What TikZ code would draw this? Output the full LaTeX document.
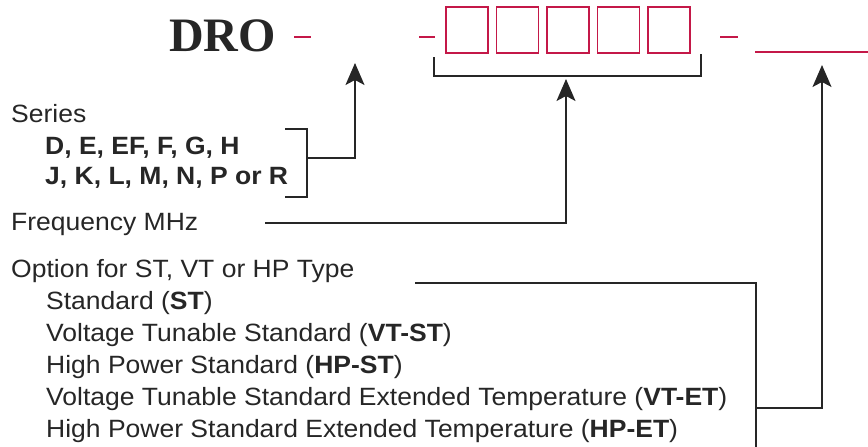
\documentclass[tikz,border=0pt]{standalone}
\usepackage{fontspec}
\usepackage{xcolor}
\usepackage{tikz}
\usetikzlibrary{arrows.meta, positioning, calc}
\newfontfamily\labelfont[FakeStretch=1.06]{Liberation Sans}
\newfontfamily\drofont{Liberation Serif}
\definecolor{codered}{RGB}{196,24,72}
\definecolor{inkgray}{RGB}{38,38,38}

\begin{document}
\begin{tikzpicture}[x=1pt,y=-1pt,
                    label text/.style={anchor=base west,inner sep=0pt,text=inkgray,font=\labelfont\fontsize{25}{30}\selectfont},
                    code box/.style={draw=codered,line width=1.8pt,minimum width=42pt,minimum height=46pt,inner sep=0pt},
                    red dash/.style={draw=codered,line width=1.8pt},
                    lead/.style={draw=inkgray,line width=1.3pt},
                    pointer/.style={lead,-{Stealth[length=22pt,width=19pt,inset=5pt]}}]

  \useasboundingbox (0,0) rectangle (868,447);

  % part number
  \node[anchor=base west,inner sep=0pt,text=inkgray,font=\drofont\bfseries\fontsize{48}{52}\selectfont] (dro) at (169,51) {DRO};
  \foreach \i in {1,...,5}
    \node[code box] (box\i) at ({416.5+50.5*\i},30) {};

  \draw[red dash] (294,37) -- (311,37);
  \draw[red dash] (419,37) -- (435,37);
  \draw[red dash] (720,37) -- (738,37);
  \draw[red dash] (755,52) -- (868,52);

  % labels
  \node[label text] (series) at (11,122) {Series};
  \node[label text,font=\labelfont\bfseries\fontsize{25}{30}\selectfont] (serA) at (45,154) {D, E, EF, F, G, H};
  \node[label text,font=\labelfont\bfseries\fontsize{25}{30}\selectfont] (serB) at (45,184) {J, K, L, M, N, P or R};
  \node[label text] (freq) at (11,230) {Frequency MHz};
  \node[label text] (opt) at (11,277) {Option for ST, VT or HP Type};
  \node[label text] (opt1) at (46,309) {Standard (\textbf{ST})};
  \node[label text] (opt2) at (46,341) {Voltage Tunable Standard (\textbf{VT-ST})};
  \node[label text] (opt3) at (46,373) {High Power Standard (\textbf{HP-ST})};
  \node[label text] (opt4) at (46,405) {Voltage Tunable Standard Extended Temperature (\textbf{VT-ET})};
  \node[label text] (opt5) at (46,437) {High Power Standard Extended Temperature (\textbf{HP-ET})};

  % bracket points
  \coordinate (serTopL) at (285,129);
  \coordinate (serTopR) at (307,129);
  \coordinate (serBotR) at (307,197);
  \coordinate (serBotL) at (285,197);
  \coordinate (serMid) at (307,158);
  \coordinate (serTurn) at (355,158);
  \coordinate (serTip) at (355,63);

  \coordinate (boxBrL) at (434,57);
  \coordinate (boxBrLB) at (434,76);
  \coordinate (boxBrRB) at (701,76);
  \coordinate (boxBrR) at (701,54);

  \coordinate (freqStart) at (265,223);
  \coordinate (freqTurn) at (566,223);
  \coordinate (freqTip) at (566,79);

  \coordinate (optStart) at (415,283);
  \coordinate (optTop) at (756,283);
  \coordinate (optBot) at (756,447);
  \coordinate (optMid) at (756,408);
  \coordinate (optTurn) at (822,408);
  \coordinate (optTip) at (822,65);

  % connectors
  \draw[lead] (serTopL) -- (serTopR) -- (serBotR) -- (serBotL);
  \draw[pointer] (serMid) -- (serTurn) -- (serTip);

  \draw[lead] (boxBrL) -- (boxBrLB) -- (boxBrRB) -- (boxBrR);
  \draw[pointer] (freqStart) -- (freqTurn) -- (freqTip);

  \draw[lead] (optStart) -- (optTop) -- (optBot);
  \draw[pointer] (optMid) -- (optTurn) -- (optTip);

\end{tikzpicture}
\end{document}
